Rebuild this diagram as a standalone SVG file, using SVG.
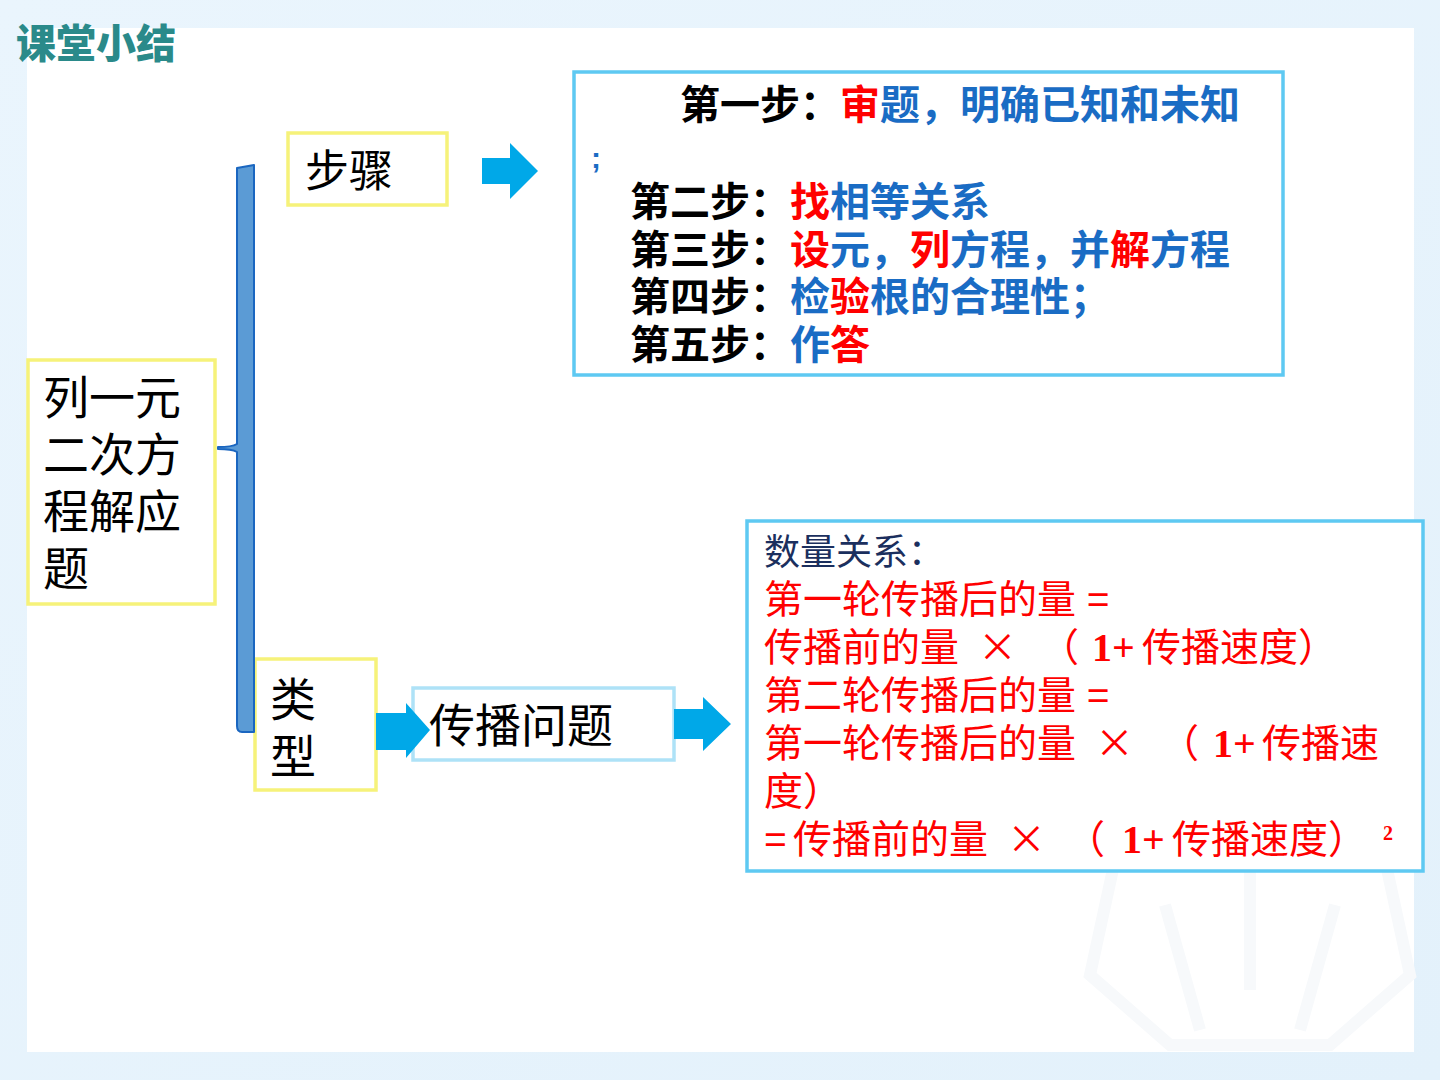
<svg xmlns="http://www.w3.org/2000/svg" width="1440" height="1080" viewBox="0 0 1440 1080">
<defs>
<style>
.cjk{font-family:"Liberation Sans","Noto Sans CJK SC",sans-serif}
.x{font-family:"Noto Sans CJK SC",sans-serif}
.ybox{fill:#fff;stroke:#f6f27a;stroke-width:3.5}
.bbox{fill:#fff;stroke:#5ec9f2;stroke-width:3.5}
.lbox{fill:#fff;stroke:#aee2f7;stroke-width:3.5}
.arrow{fill:#00a8e8}
.k{fill:#000}
.r{fill:#ff0000}
.b{fill:#1a6cc4}
.n{fill:#1b2f5e}
.ser{font-family:"Liberation Serif",serif;font-weight:bold}
</style>
<linearGradient id="bg" x1="0" y1="0" x2="1" y2="1">
<stop offset="0" stop-color="#eaf5fd"/>
<stop offset="1" stop-color="#e3f1fb"/>
</linearGradient>
</defs>
<rect x="0" y="0" width="1440" height="1080" fill="url(#bg)"/>
<rect x="27" y="28" width="1387" height="1024" fill="#ffffff"/>
<g id="watermark" fill="none" stroke="#f7f9fb" stroke-width="12">
<polygon points="1250,800 1385,860 1410,975 1330,1045 1170,1045 1090,975 1115,860"/>
<path d="M1165,905 L1200,1030 M1335,905 L1300,1030 M1250,855 L1250,990"/>
</g>
<text x="16" y="58" class="cjk" font-size="40" font-weight="900" fill="#2a8a8a">课堂小结</text>

<g id="node-main">
<rect class="ybox" x="28" y="360" width="187" height="244"/>
<text class="cjk k" font-size="46"><tspan x="43" y="414">列一元</tspan><tspan x="43" y="471">二次方</tspan><tspan x="43" y="528">程解应</tspan><tspan x="43" y="585">题</tspan></text>
</g>

<g id="node-steps-label">
<rect class="ybox" x="288" y="133" width="159" height="72"/>
<text class="cjk k" font-size="44" x="305" y="187">步骤</text>
</g>

<g id="node-steps">
<rect class="bbox" x="574" y="72" width="709" height="303"/>
<text class="cjk" font-size="40" font-weight="bold"><tspan x="680" y="119" class="k">第一步：</tspan><tspan class="r">审</tspan><tspan class="b">题，明确已知和未知</tspan><tspan x="591" y="168" class="b" font-size="30">;</tspan><tspan x="630" y="216" class="k">第二步：</tspan><tspan class="r">找</tspan><tspan class="b">相等关系</tspan><tspan x="630" y="264" class="k">第三步：</tspan><tspan class="r">设</tspan><tspan class="b">元，</tspan><tspan class="r">列</tspan><tspan class="b">方程，并</tspan><tspan class="r">解</tspan><tspan class="b">方程</tspan><tspan x="630" y="311" class="k">第四步：</tspan><tspan class="b">检</tspan><tspan class="r">验</tspan><tspan class="b">根的合理性；</tspan><tspan x="630" y="359" class="k">第五步：</tspan><tspan class="b">作</tspan><tspan class="r">答</tspan></text>
</g>

<g id="node-type">
<rect class="ybox" x="255" y="659" width="121" height="131"/>
<text class="cjk k" font-size="46"><tspan x="270" y="716">类</tspan><tspan x="270" y="773">型</tspan></text>
</g>

<g id="node-propagation">
<rect class="lbox" x="413" y="688" width="261" height="72"/>
<text class="cjk k" font-size="46" x="429" y="742">传播问题</text>
</g>

<g id="node-relations">
<rect class="bbox" x="747" y="521" width="676" height="350"/>
<text class="cjk r" font-size="39"><tspan x="764" y="565" class="n" font-size="36">数量关系：</tspan><tspan x="764" y="613">第一轮传播后的量 =</tspan><tspan x="764" y="661">传播前的量</tspan><tspan x="978" y="661" class="x">×</tspan><tspan x="1040" y="661">（</tspan><tspan x="1092" y="661" class="ser" font-size="40">1+</tspan><tspan x="1142" y="661">传播速度）</tspan><tspan x="764" y="709">第二轮传播后的量 =</tspan><tspan x="764" y="757">第一轮传播后的量</tspan><tspan x="1095" y="757" class="x">×</tspan><tspan x="1160" y="757">（</tspan><tspan x="1213" y="757" class="ser" font-size="40">1+</tspan><tspan x="1262" y="757">传播速</tspan><tspan x="764" y="805">度）</tspan><tspan x="764" y="853">=</tspan><tspan x="793" y="853">传播前的量</tspan><tspan x="1007" y="853" class="x">×</tspan><tspan x="1066" y="853">（</tspan><tspan x="1122" y="853" class="ser" font-size="40">1+</tspan><tspan x="1172" y="853">传播速度）</tspan><tspan x="1383" y="840" class="ser" font-size="20">2</tspan></text>
</g>

<g id="connectors">
<path d="M237,168 L254,165 L254,732 L242,732 Q237,732 237,726 L237,452 Q232,449 218,449 L218,447 Q232,447 237,444 Z" fill="#5b9bd5" stroke="#1a66c0" stroke-width="2" stroke-linejoin="round"/>
<polygon class="arrow" points="482,158 510,158 510,143 538,171 510,199 510,184 482,184"/>
<polygon class="arrow" points="376,713 406,713 406,703 430,730 406,758 406,750 376,750"/>
<polygon class="arrow" points="674,709 703,709 703,697 731,724 703,751 703,739 674,739"/>
</g>
</svg>
